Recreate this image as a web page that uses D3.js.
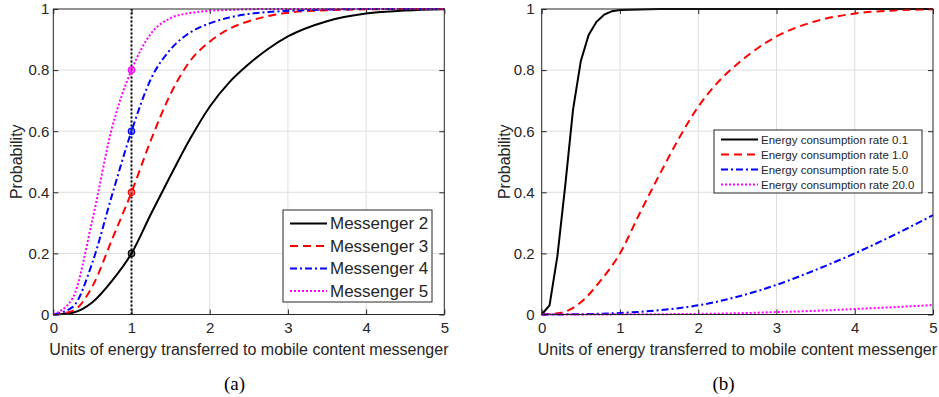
<!DOCTYPE html>
<meta charset="utf-8">
<style>
body { margin: 0; background: #fff; }
text { font-family: "Liberation Sans", Arial, sans-serif; fill: #262626; }
.caption { font-family: "Liberation Serif", "Times New Roman", serif; fill: #000; }
</style>
<svg width="939" height="397"></svg>
<script src="https://d3js.org/d3.v7.min.js"></script>
<script>

// panel (a): probability vs energy, per messenger
var xA = [0, 0.25, 0.5, 0.75, 1, 1.25, 1.5, 1.75, 2, 2.25, 2.5, 2.75, 3, 3.5, 4, 4.5, 5];
var messenger2 = [0, 0.006, 0.04, 0.11, 0.2, 0.33, 0.455, 0.575, 0.68, 0.76, 0.82, 0.87, 0.91, 0.96, 0.985, 0.995, 0.999];
var messenger3 = [0, 0.012, 0.092, 0.245, 0.4, 0.572, 0.722, 0.83, 0.893, 0.935, 0.96, 0.977, 0.988, 0.996, 0.999, 1, 1];
var messenger4 = [0, 0.025, 0.17, 0.39, 0.6, 0.772, 0.868, 0.923, 0.953, 0.972, 0.984, 0.99, 0.994, 0.998, 1, 1, 1];
var messenger5 = [0, 0.055, 0.31, 0.61, 0.8, 0.92, 0.97, 0.987, 0.994, 0.997, 0.999, 1, 1, 1, 1, 1, 1];
var markerX = 1;
var markerY = [0.2, 0.4, 0.6, 0.8];

// panel (b): probability vs energy, per consumption rate
var xRate01 = [0, 0.1, 0.2, 0.3, 0.4, 0.5, 0.6, 0.7, 0.8, 0.9, 1, 1.5, 2, 3, 4, 5];
var rate01 = [0, 0.03, 0.19, 0.42, 0.67, 0.83, 0.915, 0.958, 0.982, 0.993, 0.997, 1, 1, 1, 1, 1];
var xB = [0, 0.25, 0.5, 0.75, 1, 1.25, 1.5, 1.75, 2, 2.25, 2.5, 2.75, 3, 3.5, 4, 4.5, 5];
var rate1 = [0, 0.006, 0.04, 0.11, 0.2, 0.33, 0.455, 0.575, 0.68, 0.76, 0.82, 0.87, 0.91, 0.96, 0.985, 0.995, 0.999];
var xSlow = [0, 0.5, 1, 1.5, 2, 2.5, 3, 3.5, 4, 4.5, 5];
var rate5 = [0, 0.001, 0.005, 0.014, 0.03, 0.058, 0.097, 0.146, 0.2, 0.26, 0.325];
var rate20 = [0, 0, 0.0005, 0.001, 0.002, 0.004, 0.008, 0.012, 0.018, 0.024, 0.031];

var xTicks = [0, 1, 2, 3, 4, 5];
var yTicks = [0, 0.2, 0.4, 0.6, 0.8, 1];

var styles = {
  solid:   { color: "#000000", dash: null },
  dashed:  { color: "#ff0000", dash: "8,5" },
  dashdot: { color: "#0000ff", dash: "7,3,2,3" },
  dotted:  { color: "#ff00ff", dash: "2,2" }
};

var svg = d3.select("svg");

function zip(xs, ys) { return xs.map(function(d, i) { return [d, ys[i]]; }); }

function panel(o) {
  var x = d3.scaleLinear().domain([0, 5]).range([o.left, o.right]);
  var y = d3.scaleLinear().domain([0, 1]).range([o.bottom, o.top]);
  var g = svg.append("g");

  // grid
  g.append("g").selectAll("line").data(xTicks.slice(1, -1)).join("line")
      .attr("x1", x).attr("x2", x).attr("y1", o.top).attr("y2", o.bottom)
      .attr("stroke", "#dedede").attr("stroke-width", 1);
  g.append("g").selectAll("line").data(yTicks.slice(1, -1)).join("line")
      .attr("y1", y).attr("y2", y).attr("x1", o.left).attr("x2", o.right)
      .attr("stroke", "#dedede").attr("stroke-width", 1);

  // axes with inward ticks on all four sides
  var fmt = d3.format("~g");
  var ax = g.append("g").attr("transform", "translate(0," + o.bottom + ")")
      .call(d3.axisBottom(x).tickValues(xTicks).tickSize(-5).tickPadding(8).tickFormat(fmt));
  var ay = g.append("g").attr("transform", "translate(" + o.left + ",0)")
      .call(d3.axisLeft(y).tickValues(yTicks).tickSize(-5).tickPadding(o.ypad).tickFormat(fmt));
  var at = g.append("g").attr("transform", "translate(0," + o.top + ")")
      .call(d3.axisTop(x).tickValues(xTicks).tickSize(-5).tickFormat(""));
  var ar = g.append("g").attr("transform", "translate(" + o.right + ",0)")
      .call(d3.axisRight(y).tickValues(yTicks).tickSize(-5).tickFormat(""));
  [ax, ay, at, ar].forEach(function(a) {
    a.select(".domain").remove();
    a.selectAll("line").attr("stroke", "#262626");
    a.selectAll("text").attr("fill", "#262626").style("font-size", "15px")
        .style("font-family", "'Liberation Sans', Arial, sans-serif");
  });

  var line = d3.line().x(function(d) { return x(d[0]); }).y(function(d) { return y(d[1]); });

  // extra guide (dotted vertical line)
  if (o.guide != null) {
    g.append("line").attr("x1", x(o.guide)).attr("x2", x(o.guide))
        .attr("y1", y(0)).attr("y2", y(1))
        .attr("stroke", "#000").attr("stroke-width", 2).attr("stroke-dasharray", "2,2");
  }

  o.series.forEach(function(s) {
    var st = styles[s.style];
    g.append("path").datum(zip(s.x, s.y))
        .attr("fill", "none").attr("stroke", st.color).attr("stroke-width", 2)
        .attr("stroke-dasharray", st.dash)
        .attr("d", line.curve(s.curve || d3.curveMonotoneX));
  });

  if (o.markers) {
    o.markers.forEach(function(m) {
      g.append("circle").attr("cx", x(m.x)).attr("cy", y(m.y)).attr("r", 3.2)
          .attr("fill", styles[m.style].color).attr("fill-opacity", 0.5)
          .attr("stroke", styles[m.style].color).attr("stroke-width", 1.2);
    });
  }

  // box
  g.append("rect").attr("x", o.left).attr("y", o.top)
      .attr("width", o.right - o.left).attr("height", o.bottom - o.top)
      .attr("fill", "none").attr("stroke", "#262626").attr("stroke-width", 1);

  // labels
  g.append("text").attr("x", (o.left + o.right) / 2).attr("y", 355)
      .attr("text-anchor", "middle").style("font-size", "16px")
      .text("Units of energy transferred to mobile content messenger");
  g.append("text").attr("transform", "translate(" + o.ylabelX + "," + ((o.top + o.bottom) / 2) + ") rotate(-90)")
      .attr("text-anchor", "middle").style("font-size", "16px").text("Probability");
  g.append("text").attr("class", "caption").attr("x", o.captionX).attr("y", 390)
      .attr("text-anchor", "middle").style("font-size", "19px").text(o.caption);

  // legend
  var L = o.legend;
  g.append("rect").attr("x", L.x).attr("y", L.y).attr("width", L.w).attr("height", L.h)
      .attr("fill", "#fff").attr("stroke", "#262626").attr("stroke-width", 1);
  o.series.forEach(function(s, i) {
    var st = styles[s.style];
    var cy = L.y0 + i * L.step;
    g.append("line").attr("x1", L.l1).attr("x2", L.l2).attr("y1", cy).attr("y2", cy)
        .attr("stroke", st.color).attr("stroke-width", 2).attr("stroke-dasharray", st.dash);
    g.append("text").attr("x", L.tx).attr("y", cy).attr("dy", "0.35em")
        .style("font-size", L.font + "px").attr("fill", "#000").text(s.name);
  });
}

panel({
  left: 53.3, right: 444.3, top: 9, bottom: 314.5, ypad: 4, ylabelX: 21.5,
  caption: "(a)", captionX: 234.5, guide: markerX,
  series: [
    { name: "Messenger 2", style: "solid", x: xA, y: messenger2 },
    { name: "Messenger 3", style: "dashed", x: xA, y: messenger3 },
    { name: "Messenger 4", style: "dashdot", x: xA, y: messenger4 },
    { name: "Messenger 5", style: "dotted", x: xA, y: messenger5 }
  ],
  markers: [
    { x: markerX, y: markerY[0], style: "solid" },
    { x: markerX, y: markerY[1], style: "dashed" },
    { x: markerX, y: markerY[2], style: "dashdot" },
    { x: markerX, y: markerY[3], style: "dotted" }
  ],
  legend: { x: 283, y: 210, w: 149, h: 92, y0: 223.5, step: 22.5, l1: 290, l2: 327, tx: 330, font: 17 }
});

panel({
  left: 541.7, right: 933, top: 9, bottom: 314.5, ypad: 7, ylabelX: 510,
  caption: "(b)", captionX: 723.5, guide: null,
  series: [
    { name: "Energy consumption rate 0.1", style: "solid", x: xRate01, y: rate01, curve: d3.curveLinear },
    { name: "Energy consumption rate 1.0", style: "dashed", x: xB, y: rate1 },
    { name: "Energy consumption rate 5.0", style: "dashdot", x: xSlow, y: rate5 },
    { name: "Energy consumption rate 20.0", style: "dotted", x: xSlow, y: rate20 }
  ],
  legend: { x: 714, y: 130, w: 208, h: 63, y0: 139.5, step: 15, l1: 721, l2: 758, tx: 761, font: 11.5 }
});

</script>
